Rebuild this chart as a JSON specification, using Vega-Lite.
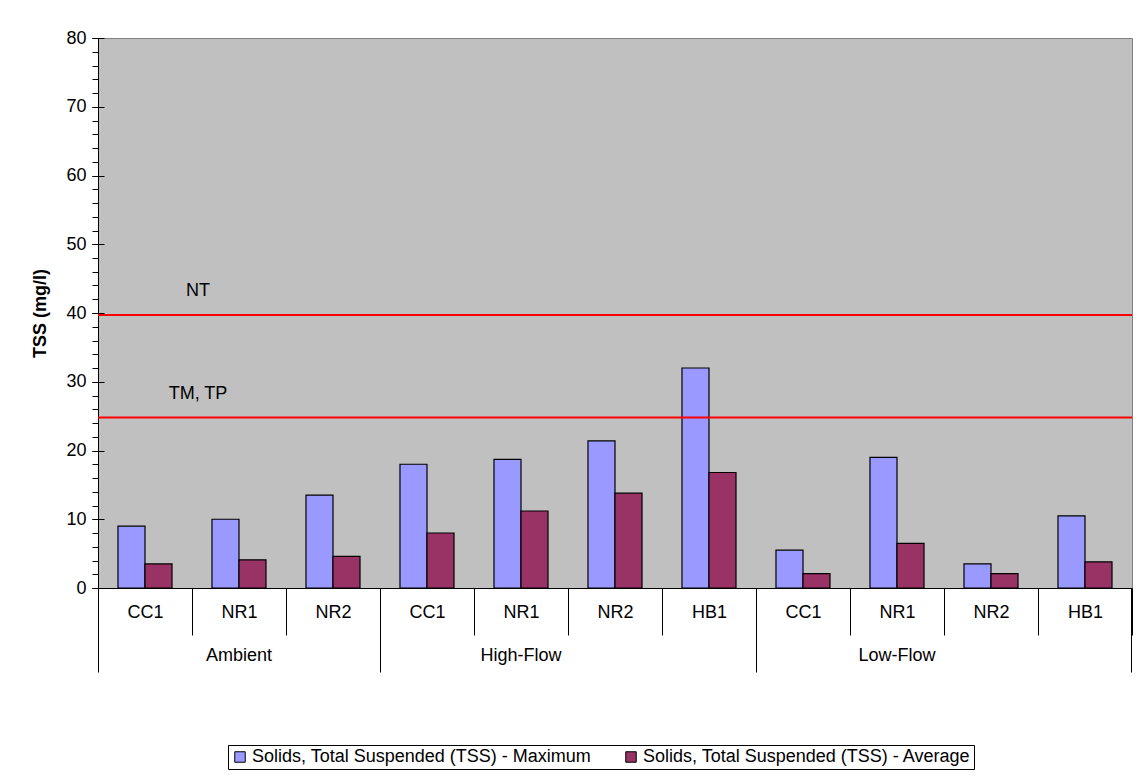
{
  "$schema": "https://vega.github.io/schema/vega-lite/v6.json",
  "width": 1034,
  "height": 550,
  "autosize": {"type": "none"},
  "padding": {"left": 98, "top": 38, "right": 5, "bottom": 188},
  "background": "white",
  "config": {
    "font": "Liberation Sans",
    "view": {"fill": "#C0C0C0", "stroke": "#808080", "strokeWidth": 1}
  },
  "datasets": {
    "tss": [
      {"group": "Ambient", "site": "CC1", "key": "Ambient|CC1", "series": "Solids, Total Suspended (TSS) - Maximum", "value": 9.0},
      {"group": "Ambient", "site": "CC1", "key": "Ambient|CC1", "series": "Solids, Total Suspended (TSS) - Average", "value": 3.5},
      {"group": "Ambient", "site": "NR1", "key": "Ambient|NR1", "series": "Solids, Total Suspended (TSS) - Maximum", "value": 10.0},
      {"group": "Ambient", "site": "NR1", "key": "Ambient|NR1", "series": "Solids, Total Suspended (TSS) - Average", "value": 4.1},
      {"group": "Ambient", "site": "NR2", "key": "Ambient|NR2", "series": "Solids, Total Suspended (TSS) - Maximum", "value": 13.5},
      {"group": "Ambient", "site": "NR2", "key": "Ambient|NR2", "series": "Solids, Total Suspended (TSS) - Average", "value": 4.6},
      {"group": "High-Flow", "site": "CC1", "key": "High-Flow|CC1", "series": "Solids, Total Suspended (TSS) - Maximum", "value": 18.0},
      {"group": "High-Flow", "site": "CC1", "key": "High-Flow|CC1", "series": "Solids, Total Suspended (TSS) - Average", "value": 8.0},
      {"group": "High-Flow", "site": "NR1", "key": "High-Flow|NR1", "series": "Solids, Total Suspended (TSS) - Maximum", "value": 18.7},
      {"group": "High-Flow", "site": "NR1", "key": "High-Flow|NR1", "series": "Solids, Total Suspended (TSS) - Average", "value": 11.2},
      {"group": "High-Flow", "site": "NR2", "key": "High-Flow|NR2", "series": "Solids, Total Suspended (TSS) - Maximum", "value": 21.4},
      {"group": "High-Flow", "site": "NR2", "key": "High-Flow|NR2", "series": "Solids, Total Suspended (TSS) - Average", "value": 13.8},
      {"group": "High-Flow", "site": "HB1", "key": "High-Flow|HB1", "series": "Solids, Total Suspended (TSS) - Maximum", "value": 32.0},
      {"group": "High-Flow", "site": "HB1", "key": "High-Flow|HB1", "series": "Solids, Total Suspended (TSS) - Average", "value": 16.8},
      {"group": "Low-Flow", "site": "CC1", "key": "Low-Flow|CC1", "series": "Solids, Total Suspended (TSS) - Maximum", "value": 5.5},
      {"group": "Low-Flow", "site": "CC1", "key": "Low-Flow|CC1", "series": "Solids, Total Suspended (TSS) - Average", "value": 2.1},
      {"group": "Low-Flow", "site": "NR1", "key": "Low-Flow|NR1", "series": "Solids, Total Suspended (TSS) - Maximum", "value": 19.0},
      {"group": "Low-Flow", "site": "NR1", "key": "Low-Flow|NR1", "series": "Solids, Total Suspended (TSS) - Average", "value": 6.5},
      {"group": "Low-Flow", "site": "NR2", "key": "Low-Flow|NR2", "series": "Solids, Total Suspended (TSS) - Maximum", "value": 3.5},
      {"group": "Low-Flow", "site": "NR2", "key": "Low-Flow|NR2", "series": "Solids, Total Suspended (TSS) - Average", "value": 2.1},
      {"group": "Low-Flow", "site": "HB1", "key": "Low-Flow|HB1", "series": "Solids, Total Suspended (TSS) - Maximum", "value": 10.5},
      {"group": "Low-Flow", "site": "HB1", "key": "Low-Flow|HB1", "series": "Solids, Total Suspended (TSS) - Average", "value": 3.8}
    ],
    "limits": [
      {"label": "NT", "value": 39.7},
      {"label": "TM, TP", "value": 24.8}
    ]
  },
  "layer": [
    {
      "data": {"name": "tss"},
      "mark": {"type": "bar", "stroke": "black", "strokeWidth": 1.2},
      "encoding": {
        "x": {
          "field": "key",
          "type": "nominal",
          "scale": {
            "domain": ["Ambient|CC1", "Ambient|NR1", "Ambient|NR2", "High-Flow|CC1", "High-Flow|NR1", "High-Flow|NR2", "High-Flow|HB1", "Low-Flow|CC1", "Low-Flow|NR1", "Low-Flow|NR2", "Low-Flow|HB1"],
            "paddingInner": 0,
            "paddingOuter": 0
          },
          "axis": {
            "title": null,
            "orient": "bottom",
            "labelExpr": "split(datum.value, '|')[1]",
            "labelAngle": 0,
            "labelBaseline": "middle",
            "labelFontSize": 18,
            "labelColor": "black",
            "tickBand": "extent",
            "tickColor": "black",
            "domainColor": "black",
            "tickSize": 47,
            "labelPadding": -23
          }
        },
        "xOffset": {
          "field": "series",
          "type": "nominal",
          "scale": {"domain": ["Solids, Total Suspended (TSS) - Maximum", "Solids, Total Suspended (TSS) - Average"], "paddingInner": 0, "paddingOuter": 0.74}
        },
        "y": {
          "field": "value",
          "type": "quantitative",
          "scale": {"domain": [0, 80], "nice": false},
          "axis": {
            "orient": "left",
            "title": "TSS (mg/l)",
            "titleFontSize": 18,
            "titleFontWeight": "bold",
            "titleColor": "black",
            "titlePadding": 16,
            "values": [0, 10, 20, 30, 40, 50, 60, 70, 80],
            "tickSize": 6,
            "labelPadding": 6,
            "labelFontSize": 18,
            "labelColor": "black",
            "tickColor": "black",
            "domainColor": "black",
            "grid": false
          }
        },
        "color": {
          "field": "series",
          "type": "nominal",
          "scale": {"domain": ["Solids, Total Suspended (TSS) - Maximum", "Solids, Total Suspended (TSS) - Average"], "range": ["#9999FF", "#993366"]},
          "legend": {
            "title": null,
            "orient": "none",
            "legendX": 130,
            "legendY": 707,
            "direction": "horizontal",
            "columns": 2,
            "strokeColor": "black",
            "fillColor": "white",
            "padding": 3,
            "symbolType": "square",
            "symbolSize": 110,
            "symbolStrokeColor": "black",
            "symbolStrokeWidth": 1,
            "labelFontSize": 18,
            "labelColor": "black",
            "labelLimit": 0,
            "labelOffset": 3,
            "columnPadding": 30
          }
        }
      }
    },
    {
      "data": {"name": "tss"},
      "mark": {"type": "point", "opacity": 0},
      "encoding": {
        "y": {
          "field": "value",
          "type": "quantitative",
          "axis": {
            "orient": "left",
            "title": null,
            "values": [0, 2, 4, 6, 8, 10, 12, 14, 16, 18, 20, 22, 24, 26, 28, 30, 32, 34, 36, 38, 40, 42, 44, 46, 48, 50, 52, 54, 56, 58, 60, 62, 64, 66, 68, 70, 72, 74, 76, 78, 80],
            "labels": false,
            "domain": false,
            "grid": false,
            "tickSize": 6,
            "tickColor": "black"
          }
        }
      }
    },
    {
      "data": {"name": "tss"},
      "mark": {"type": "point", "opacity": 0},
      "encoding": {
        "y": {
          "field": "value",
          "type": "quantitative",
          "axis": {
            "orient": "left",
            "title": null,
            "values": [0, 10, 20, 30, 40, 50, 60, 70, 80],
            "labels": false,
            "domain": false,
            "grid": false,
            "tickSize": -6,
            "tickColor": "black"
          }
        }
      }
    },
    {
      "data": {"name": "tss"},
      "mark": {"type": "point", "opacity": 0},
      "encoding": {
        "x": {
          "field": "key",
          "type": "nominal",
          "axis": {
            "title": null,
            "orient": "bottom",
            "values": ["Ambient|NR2", "High-Flow|HB1"],
            "bandPosition": 1,
            "labels": false,
            "domain": false,
            "tickColor": "black",
            "tickSize": 84
          }
        }
      }
    },
    {
      "data": {"name": "tss"},
      "mark": {"type": "point", "opacity": 0},
      "encoding": {
        "x": {
          "field": "key",
          "type": "nominal",
          "axis": {
            "title": null,
            "orient": "bottom",
            "values": ["Low-Flow|HB1"],
            "bandPosition": 0.994,
            "labels": false,
            "domain": false,
            "tickColor": "black",
            "tickSize": 84
          }
        }
      }
    },
    {
      "data": {"name": "tss"},
      "mark": {"type": "point", "opacity": 0},
      "encoding": {
        "x": {
          "field": "key",
          "type": "nominal",
          "axis": {
            "title": null,
            "orient": "bottom",
            "values": ["Ambient|CC1"],
            "bandPosition": 0,
            "labels": false,
            "domain": false,
            "tickColor": "black",
            "tickSize": 84
          }
        }
      }
    },
    {
      "data": {"name": "tss"},
      "mark": {"type": "point", "opacity": 0},
      "encoding": {
        "x": {
          "field": "key",
          "type": "nominal",
          "axis": {
            "title": null,
            "orient": "bottom",
            "values": ["Ambient|NR1"],
            "bandPosition": 0.5,
            "labelExpr": "split(datum.value, '|')[0]",
            "labelAngle": 0,
            "labelBaseline": "middle",
            "labelFontSize": 18,
            "labelColor": "black",
            "ticks": false,
            "domain": false,
            "labelPadding": 67
          }
        }
      }
    },
    {
      "data": {"name": "tss"},
      "mark": {"type": "point", "opacity": 0},
      "encoding": {
        "x": {
          "field": "key",
          "type": "nominal",
          "axis": {
            "title": null,
            "orient": "bottom",
            "values": ["High-Flow|NR1", "Low-Flow|NR1"],
            "bandPosition": 1,
            "labelExpr": "split(datum.value, '|')[0]",
            "labelAngle": 0,
            "labelBaseline": "middle",
            "labelFontSize": 18,
            "labelColor": "black",
            "ticks": false,
            "domain": false,
            "labelPadding": 67
          }
        }
      }
    },
    {
      "data": {"name": "limits"},
      "mark": {"type": "rule", "color": "#FF0000", "strokeWidth": 2},
      "encoding": {
        "y": {"field": "value", "type": "quantitative", "axis": null}
      }
    },
    {
      "data": {"name": "limits"},
      "mark": {"type": "text", "fontSize": 18, "color": "black", "align": "center", "baseline": "middle", "dx": 53, "dy": -24},
      "encoding": {
        "x": {"datum": "Ambient|CC1", "type": "nominal", "axis": null},
        "y": {"field": "value", "type": "quantitative", "axis": null},
        "text": {"field": "label", "type": "nominal"}
      }
    }
  ],
  "resolve": {"axis": {"x": "independent", "y": "independent"}}
}
